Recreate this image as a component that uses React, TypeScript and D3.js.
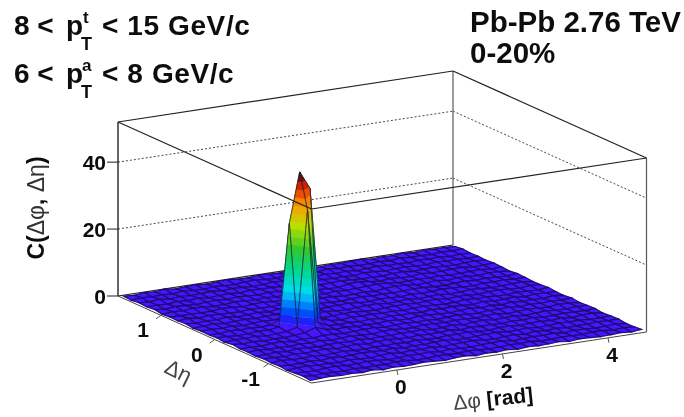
import React from "react";
import * as d3 from "d3";

// Correlation surface C(dphi, deta): rows run from deta = +1.72 down to -1.76, columns from dphi = -1.6 to 4.68
const surfaceRows: number[][] = [
[.5,.3,.6,.4,.7,.3,.5,.6,.3,.5,.7,.4,.3,.6,.5,.3,.7,.4,.6,.3,.5,.4,.6,.7,.3,.5,.4,.7,.3,.6,.4,.5,.3],
[.3,.6,.4,.5,.3,.7,.4,.3,.6,.4,.3,.6,.7,.4,.3,.6,.4,.5,.3,.7,.4,.6,.3,.4,.6,.3,.7,.4,.5,.3,.6,.4,.6],
[.6,.4,.7,.3,.6,.4,.5,.7,.4,.6,.5,.3,.4,.7,.5,.4,.6,.3,.7,.4,.6,.3,.5,.7,.4,.5,.3,.6,.4,.7,.3,.5,.4],
[.4,.5,.3,.6,.4,.7,.3,.5,.6,.3,.7,.5,.6,.3,.4,.7,.3,.6,.4,.5,.3,.7,.6,.3,.5,.6,.4,.3,.7,.4,.6,.3,.5],
[.7,.3,.6,.5,.3,.5,.6,.4,.7,.5,.3,.6,.4,.5,.7,.3,.5,.6,.8,.6,.4,.5,.3,.6,.7,.3,.5,.6,.4,.3,.5,.6,.4],
[.3,.6,.4,.7,.6,.3,.4,.7,.5,.4,.6,.3,.7,.4,.3,.6,.4,.3,.9,1.1,.7,.3,.6,.4,.3,.7,.4,.5,.6,.7,.3,.4,.6],
[.5,.4,.5,.3,.4,.7,.6,.3,.6,.7,.4,.5,.3,.6,.5,.4,.7,.5,.6,.8,1,.8,.4,.5,.6,.4,.6,.3,.4,.5,.6,.3,.5],
[.4,.7,.3,.6,.5,.4,.3,.6,.5,.4,.6,.7,.5,.3,.7,.6,.3,.4,.6,.3,.7,.9,.8,.3,.5,.7,.3,.6,.5,.3,.7,.5,.3],
[.6,.3,.5,.4,.7,.3,.5,.7,.4,.8,.5,.4,.6,.7,.4,.3,.5,.7,.4,.6,.4,.5,.7,.6,.4,.3,.5,.7,.4,.6,.4,.3,.6],
[.3,.5,.7,.3,.5,.6,.4,.6,.7,1,.7,.6,.3,.5,.6,.7,.4,.3,.6,.5,.3,.6,.4,.5,.7,.6,.4,.3,.6,.5,.7,.4,.5],
[.5,.6,.4,.6,.3,.5,.7,.5,1,1.6,1.1,.5,.7,.4,.3,.5,.6,.7,.3,.4,.7,.3,.5,.6,.3,.4,.7,.5,.3,.4,.5,.6,.3],
[.4,.3,.7,.5,.6,.4,.6,2,4,2.5,.9,.4,.5,.6,.7,.4,.3,.5,.6,.7,.4,.6,.7,.3,.6,.5,.3,.6,.7,.5,.3,.6,.4],
[.6,.5,.3,.4,.7,.6,1,31.5,46.4,41,1.5,.6,.3,.7,.5,.6,.4,.6,.3,.5,.6,.5,.3,.4,.7,.5,.6,.4,.3,.6,.4,.3,.6],
[.3,.6,.5,.7,.3,.5,.7,1.5,36,2,.6,.4,.6,.3,.6,.3,.7,.4,.5,.3,.7,.4,.6,.5,.3,.7,.4,.5,.7,.3,.6,.5,.4],
[.7,.4,.6,.3,.5,.4,.6,.9,2,1,.5,.7,.4,.5,.4,.7,.5,.3,.7,.6,.4,.3,.5,.7,.4,.6,.3,.7,.4,.5,.3,.7,.3],
[.4,.5,.3,.6,.7,.3,.5,.4,.7,.6,.3,.5,.6,.7,.3,.5,.6,.4,.6,.3,.5,.7,.4,.3,.6,.5,.7,.3,.6,.4,.6,.4,.6],
[.5,.7,.4,.5,.3,.6,.4,.7,.3,.5,.6,.4,.3,.6,.7,.4,.3,.7,.5,.4,.6,.5,.3,.6,.7,.3,.4,.6,.5,.3,.7,.5,.3],
[.3,.4,.6,.3,.7,.5,.3,.5,.6,.4,.7,.3,.5,.4,.6,.5,.7,.3,.4,.7,.3,.6,.7,.4,.5,.6,.3,.5,.7,.4,.3,.6,.5],
[.6,.5,.3,.7,.4,.6,.7,.3,.5,.7,.3,.6,.7,.5,.3,.6,.4,.5,.7,.3,.6,.4,.5,.3,.6,.4,.7,.3,.4,.6,.5,.4,.6],
[.4,.7,.5,.4,.6,.3,.5,.6,.4,.3,.5,.4,.6,.3,.7,.4,.3,.6,.5,.7,.4,.3,.6,.7,.3,.5,.6,.4,.7,.3,.6,.7,.3],
[.6,.3,.4,.6,.3,.7,.4,.5,.7,.6,.4,.7,.3,.5,.4,.6,.7,.4,.3,.5,.6,.7,.4,.5,.6,.3,.4,.7,.5,.6,.3,.4,.5],
[.3,.6,.7,.4,.5,.3,.6,.4,.3,.5,.7,.3,.6,.4,.7,.3,.5,.6,.7,.4,.3,.5,.6,.3,.7,.4,.6,.3,.4,.5,.7,.5,.6],
[.5,.4,.3,.6,.7,.4,.5,.7,.6,.3,.4,.6,.5,.7,.3,.6,.4,.3,.5,.6,.7,.3,.4,.6,.5,.7,.3,.6,.5,.3,.4,.6,.3],
[.7,.3,.5,.4,.3,.6,.3,.5,.4,.7,.6,.3,.4,.6,.5,.4,.7,.5,.3,.4,.6,.5,.7,.3,.4,.6,.5,.4,.7,.6,.3,.5,.4],
[.4,.6,.7,.5,.6,.4,.7,.3,.6,.4,.5,.7,.5,.3,.6,.7,.3,.6,.4,.7,.3,.6,.4,.5,.7,.3,.6,.5,.3,.4,.6,.3,.6],
];

const phiNodeRange = [-1.6, 4.68];
const etaNodeRange = [1.72, -1.76];
const zTicks = [0, 20, 40];
const phiTicks = [0, 2, 4];
const etaTicks = [1, 0, -1];
const paletteHeights = [0, 2.3, 4, 7, 12, 18, 24, 31, 37, 42, 46];
const paletteColors = ["#5210ff", "#3c14fa", "#0a28f8", "#0068ff", "#00dcf0", "#00d890", "#30c830", "#b8e000", "#ff9a00", "#e02800", "#5a0000"];

const phiScale = d3.scaleLinear().domain([-1.62, 4.73]).range([0, 1]);
const etaScale = d3.scaleLinear().domain([1.8, -1.8]).range([0, 1]);
const zScale = d3.scaleLinear().domain([0, 52]).range([0, 174]);
const color = d3.scaleLinear<string>().domain(paletteHeights).range(paletteColors).clamp(true);

type P3 = [number, number, number];
const project = (phi: number, eta: number, z: number): [number, number] => {
  const u = phiScale(phi);
  const v = etaScale(eta);
  return [118 + 193.5 * v + 335 * u, 296 + 87 * v - 51 * u - zScale(z)];
};

const bandEdges = d3.range(0, 48, 2.3);

// Keep the part of a facet whose height lies between lo and hi
function clipBand(poly: P3[], lo: number, hi: number): P3[] {
  const clip = (pts: P3[], inside: (z: number) => boolean, lim: number) => {
    const out: P3[] = [];
    pts.forEach((a, k) => {
      const b = pts[(k + 1) % pts.length];
      if (inside(a[2])) out.push(a);
      if (inside(a[2]) !== inside(b[2])) {
        const t = (lim - a[2]) / (b[2] - a[2]);
        out.push([a[0] + t * (b[0] - a[0]), a[1] + t * (b[1] - a[1]), lim]);
      }
    });
    return out;
  };
  return clip(clip(poly, (z) => z >= lo, lo), (z) => z <= hi, hi);
}

const nCols = surfaceRows[0].length;
const nRows = surfaceRows.length;
const phiNode = d3.scaleLinear().domain([0, nCols - 1]).range(phiNodeRange);
const etaNode = d3.scaleLinear().domain([0, nRows - 1]).range(etaNodeRange);
const line = d3.line();

function Surface() {
  const items: React.ReactNode[] = [];
  for (let i = nCols - 2; i >= 0; i--) {
    for (let j = 0; j < nRows - 1; j++) {
      const poly: P3[] = [
        [phiNode(i), etaNode(j), surfaceRows[j][i]],
        [phiNode(i + 1), etaNode(j), surfaceRows[j][i + 1]],
        [phiNode(i + 1), etaNode(j + 1), surfaceRows[j + 1][i + 1]],
        [phiNode(i), etaNode(j + 1), surfaceRows[j + 1][i]],
      ];
      const zs = poly.map((p) => p[2]);
      const lo = d3.min(zs)!;
      const hi = d3.max(zs)!;
      bandEdges.forEach((e) => {
        const top = e + 2.3;
        if (hi < e || lo > top) return;
        const part = clipBand(poly, e, top);
        if (part.length < 3) return;
        const d = line(part.map((p) => project(p[0], p[1], p[2])))! + "Z";
        items.push(<path key={`${i}-${j}-${e}`} d={d} fill={color(e + 1.15)} stroke={color(e + 1.15)} strokeWidth={0.3} />);
      });
      const outline = line(poly.map((p) => project(p[0], p[1], p[2])))! + "Z";
      const tall = hi > 5;
      items.push(
        <path
          key={`o${i}-${j}`}
          d={outline}
          fill="none"
          stroke={tall ? "#14203a" : "#180a66"}
          strokeWidth={tall ? 0.9 : 1.1}
          strokeOpacity={tall ? 0.75 : 0.95}
        />,
      );
    }
  }
  return <g>{items}</g>;
}

const boxCorner = (phi: number, eta: number, z: number) => project(phi, eta, z);

export default function App() {
  const [phiA, phiB] = phiScale.domain();
  const [etaA, etaB] = etaScale.domain();
  const zTop = 52;
  const L = (a: [number, number], b: [number, number], props: any) => (
    <line x1={a[0]} y1={a[1]} x2={b[0]} y2={b[1]} {...props} />
  );
  const bold = { fontFamily: "Liberation Sans", fontWeight: 700, fill: "#111" };
  const dark = { stroke: "#222", strokeWidth: 1.2 };
  const grid = { stroke: "#333", strokeWidth: 0.9, strokeDasharray: "2 2" };
  return (
    <svg width={684} height={417} style={{ position: "absolute", left: 0, top: 0 }}>
      <defs>
        <filter id="soft" x="-5%" y="-5%" width="110%" height="110%">
          <feGaussianBlur stdDeviation={0.55} />
        </filter>
        <filter id="softText" x="-5%" y="-5%" width="110%" height="110%">
          <feGaussianBlur stdDeviation={0.4} />
        </filter>
      </defs>
      <rect width={684} height={417} fill="#fff" />
      <g filter="url(#soft)">
        {zTicks.filter((z) => z > 0).map((z) => (
          <g key={z}>
            {L(boxCorner(phiA, etaA, z), boxCorner(phiB, etaA, z), grid)}
            {L(boxCorner(phiB, etaA, z), boxCorner(phiB, etaB, z), grid)}
          </g>
        ))}
        {L(boxCorner(phiA, etaA, 0), boxCorner(phiB, etaA, 0), dark)}
        {L(boxCorner(phiB, etaA, 0), boxCorner(phiB, etaA, zTop), { stroke: "#666", strokeWidth: 1.3 })}
        {L(boxCorner(phiA, etaA, zTop), boxCorner(phiB, etaA, zTop), dark)}
        {L(boxCorner(phiB, etaA, zTop), boxCorner(phiB, etaB, zTop), dark)}
        {L(boxCorner(phiB, etaB, 0), boxCorner(phiB, etaB, zTop), { stroke: "#555", strokeWidth: 1.2 })}
        {L(boxCorner(phiA, etaA, 0), boxCorner(phiA, etaA, zTop), { stroke: "#222", strokeWidth: 1.4 })}
        <Surface />
        {L(boxCorner(phiA, etaA, zTop), boxCorner(phiA, etaB, zTop), dark)}
        {L(boxCorner(phiA, etaB, zTop), boxCorner(phiB, etaB, zTop), dark)}
        {L(boxCorner(phiA, etaA, 0), boxCorner(phiA, etaB, 0), { stroke: "#444", strokeWidth: 1 })}
        {L(boxCorner(phiA, etaB, 0), boxCorner(phiB, etaB, 0), { stroke: "#444", strokeWidth: 1 })}
        {zTicks.map((z) => {
          const p = boxCorner(phiA, etaA, z);
          return L([p[0] - 11, p[1]], p, { key: z, stroke: "#333", strokeWidth: 1.1 });
        })}
        {phiTicks.map((t) => {
          const p = boxCorner(t, etaB, 0);
          return L(p, [p[0] + 1, p[1] + 5], { key: t, stroke: "#555", strokeWidth: 1 });
        })}
        {etaTicks.map((t) => {
          const p = boxCorner(phiA, t, 0);
          return L(p, [p[0] - 5, p[1] + 3.5], { key: t, stroke: "#555", strokeWidth: 1 });
        })}
      </g>

      <g filter="url(#softText)">
        <text x={14} y={35} fontSize={28} {...bold}>8 &lt;</text>
        <text x={66} y={35} fontSize={28} {...bold}>p</text>
        <text x={83} y={23} fontSize={17} {...bold}>t</text>
        <text x={81} y={50} fontSize={18} {...bold}>T</text>
        <text x={102} y={35} fontSize={28} letterSpacing={0.6} {...bold}>&lt; 15 GeV/c</text>
        <text x={14} y={83} fontSize={28} {...bold}>6 &lt;</text>
        <text x={66} y={83} fontSize={28} {...bold}>p</text>
        <text x={82} y={71} fontSize={17} {...bold}>a</text>
        <text x={81} y={98} fontSize={18} {...bold}>T</text>
        <text x={102} y={83} fontSize={28} letterSpacing={0.6} {...bold}>&lt; 8 GeV/c</text>
        <text x={470} y={32} fontSize={29.5} {...bold}>Pb-Pb 2.76 TeV</text>
        <text x={470} y={63} fontSize={29.5} {...bold}>0-20%</text>

        {zTicks.map((z) => (
          <text key={z} x={106} y={boxCorner(phiA, etaA, z)[1] + 8} fontSize={21} textAnchor="end" {...bold}>{z}</text>
        ))}
        {phiTicks.map((t) => {
          const p = boxCorner(t, etaB, 0);
          return <text key={t} x={p[0] + 4} y={p[1] + 24} fontSize={21} textAnchor="middle" {...bold}>{t}</text>;
        })}
        {etaTicks.map((t) => {
          const p = boxCorner(phiA, t, 0);
          return <text key={t} x={p[0] - 18} y={p[1] + 22} fontSize={21} textAnchor="middle" {...bold}>{t === -1 ? "-1" : t}</text>;
        })}
        <text transform="translate(44,208) rotate(-90)" textAnchor="middle" fontSize={23} {...bold}>
          C(<tspan fontWeight={400} fill="#333">Δφ</tspan>, <tspan fontWeight={400} fill="#333">Δη</tspan>)
        </text>
        <text transform="translate(454,410) rotate(-6)" fontSize={21} {...bold}>
          <tspan fontWeight={400} fill="#444">Δφ</tspan> [rad]
        </text>
        <text transform="translate(163,372) rotate(26)" fontSize={22} fontFamily="Liberation Sans" fill="#444">Δη</text>
      </g>
    </svg>
  );
}
